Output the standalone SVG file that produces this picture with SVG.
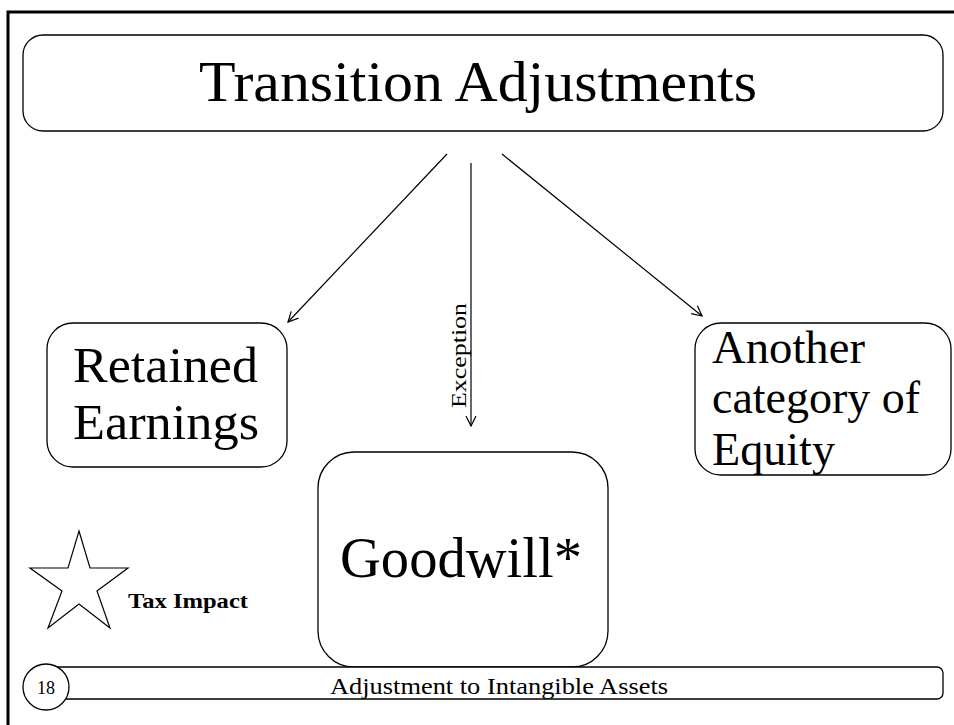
<svg xmlns="http://www.w3.org/2000/svg" width="954" height="725" viewBox="0 0 954 725">
<style>
.box{fill:#fff;stroke:#000;stroke-width:1.3}
.t{font-family:"Liberation Serif","Times New Roman",serif;fill:#000}
.con{stroke:#000;stroke-width:1.2;fill:none}
</style>
<defs>
<marker id="ah" viewBox="0 0 12 12" refX="11" refY="6" markerWidth="12" markerHeight="12" markerUnits="userSpaceOnUse" orient="auto">
<path d="M1,1 L11,6 L1,11" fill="none" stroke="#000" stroke-width="1.2"/>
</marker>
</defs>
<rect width="954" height="725" fill="#fff"/>
<path d="M8,725 V12 H954" fill="none" stroke="#000" stroke-width="3"/>
<g id="title">
<rect class="box" x="23" y="35" width="920" height="96" rx="20"/>
<text class="t" x="199" y="101" font-size="56" textLength="558" lengthAdjust="spacingAndGlyphs">Transition Adjustments</text>
</g>
<g id="connectors">
<line class="con" x1="447" y1="154" x2="288" y2="322" marker-end="url(#ah)"/>
<line class="con" x1="471" y1="163" x2="471" y2="426" marker-end="url(#ah)"/>
<line class="con" x1="502" y1="154" x2="702" y2="316" marker-end="url(#ah)"/>
<text class="t" font-size="22" transform="translate(466,408) rotate(-90)" textLength="105" lengthAdjust="spacingAndGlyphs">Exception</text>
</g>
<g id="retained">
<rect class="box" x="47" y="323" width="240" height="144" rx="26"/>
<text class="t" x="73" y="382" font-size="50" textLength="185" lengthAdjust="spacingAndGlyphs">Retained</text>
<text class="t" x="73" y="439" font-size="50" textLength="186" lengthAdjust="spacingAndGlyphs">Earnings</text>
</g>
<g id="another">
<rect class="box" x="695" y="323" width="256" height="152" rx="26"/>
<text class="t" x="712" y="363" font-size="46" textLength="153" lengthAdjust="spacingAndGlyphs">Another</text>
<text class="t" x="712" y="413" font-size="46" textLength="208" lengthAdjust="spacingAndGlyphs">category of</text>
<text class="t" x="712" y="465" font-size="46" textLength="123" lengthAdjust="spacingAndGlyphs">Equity</text>
</g>
<g id="goodwill">
<rect class="box" x="318" y="452" width="290" height="215" rx="36"/>
<text class="t" x="340" y="577" font-size="56" textLength="242" lengthAdjust="spacingAndGlyphs">Goodwill*</text>
</g>
<g id="tax">
<polygon points="79,531 90,568 128,568 97,591 110,628 79,604 48,628 62,591 30,568 68,568" fill="#fff" stroke="#000" stroke-width="1.2"/>
<text class="t" x="128" y="608" font-size="22" font-weight="bold" textLength="120" lengthAdjust="spacingAndGlyphs">Tax Impact</text>
</g>
<g id="footer">
<rect class="box" x="40" y="667" width="903" height="32" rx="6"/>
<circle class="box" cx="46" cy="687" r="23"/>
<text class="t" x="46" y="694" font-size="18" text-anchor="middle">18</text>
<text class="t" x="330" y="694" font-size="23" textLength="338" lengthAdjust="spacingAndGlyphs">Adjustment to Intangible Assets</text>
</g>
</svg>
